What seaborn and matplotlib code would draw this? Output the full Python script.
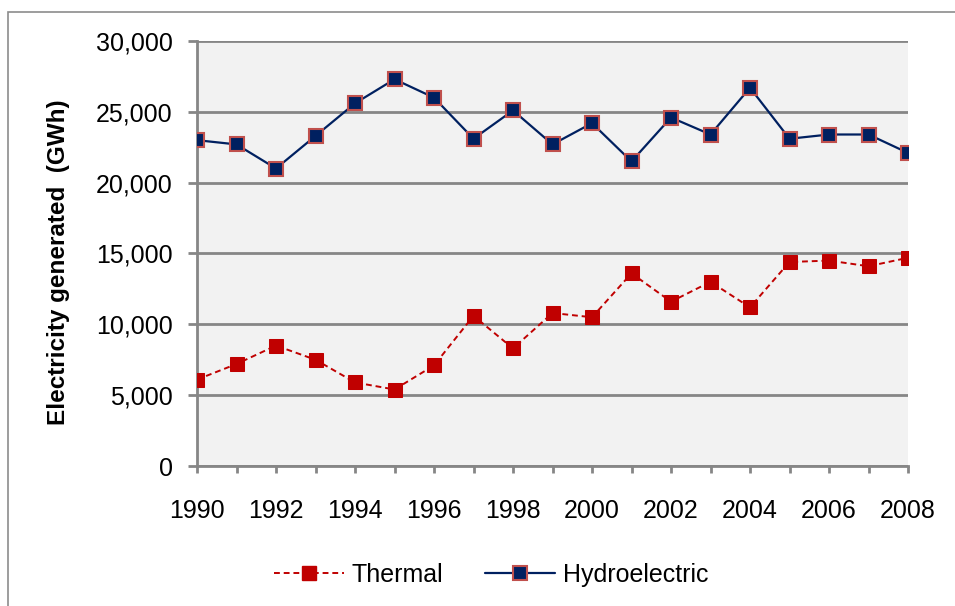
import matplotlib
matplotlib.use("Agg")
import matplotlib.pyplot as plt
import seaborn as sns
import pandas as pd
from matplotlib.ticker import FuncFormatter, MultipleLocator
from matplotlib.lines import Line2D
from matplotlib.patches import Rectangle

years = list(range(1990, 2009))
thermal = [6100, 7200, 8500, 7500, 5900, 5400, 7100, 10600, 8300, 10800,
           10500, 13600, 11600, 13000, 11200, 14400, 14500, 14100, 14700]
hydro = [23000, 22700, 21000, 23300, 25600, 27300, 26000, 23100, 25100, 22700,
         24200, 21500, 24600, 23400, 26700, 23100, 23400, 23400, 22100]

df = pd.DataFrame({"year": years, "Thermal": thermal, "Hydroelectric": hydro})

sns.set_style("white")
plt.rcParams['font.family'] = ['Liberation Sans', 'DejaVu Sans']
plt.rcParams['text.color'] = 'black'

fig = plt.figure(figsize=(9.55, 6.06), dpi=100)
ax = fig.add_axes([197 / 955, 1 - 466 / 606, 711 / 955, 425 / 606])
ax.set_facecolor("#F2F2F2")

grid_c = "#868686"
red = "#C00000"
navy = "#002060"
edge = "#C0504D"

sns.lineplot(data=df, x="year", y="Thermal", ax=ax, color=red,
             linestyle=(0, (3, 2)), linewidth=1.4, marker="s", markersize=10,
             markerfacecolor=red, markeredgecolor=red, zorder=3)
sns.lineplot(data=df, x="year", y="Hydroelectric", ax=ax, color=navy,
             linewidth=1.6, marker="s", markersize=10,
             markerfacecolor=navy, markeredgecolor=edge,
             markeredgewidth=1.5, zorder=3)

ax.set_xlim(1990, 2008)
ax.set_ylim(0, 30000)
ax.xaxis.set_major_locator(MultipleLocator(2))
ax.xaxis.set_minor_locator(MultipleLocator(1))
ax.yaxis.set_major_locator(MultipleLocator(5000))
ax.yaxis.set_major_formatter(FuncFormatter(lambda v, p: f"{v:,.0f}"))
ax.grid(axis="y", color=grid_c, linewidth=2, zorder=0)
ax.set_axisbelow(True)

for s in ["top", "right"]:
    ax.spines[s].set_visible(False)
for s in ["left", "bottom"]:
    ax.spines[s].set_color(grid_c)
    ax.spines[s].set_linewidth(2)

ax.tick_params(axis="y", which="major", direction="out", length=6.5, width=2,
               color=grid_c, labelcolor="black", labelsize=18, pad=11, left=True)
ax.tick_params(axis="x", which="both", direction="out", length=5, width=2,
               color=grid_c, labelcolor="black", labelsize=18, pad=19, bottom=True)

ax.set_xlabel("")
ax.set_ylabel("Electricity generated  (GWh)", fontsize=17.5, fontweight="bold",
              color="black")
ax.yaxis.set_label_coords(0, 0.5)
ax.yaxis.label.set_transform(fig.transFigure)
ax.yaxis.label.set_position((70 / 955, 1 - 262 / 606))

handles = [
    Line2D([], [], color=red, linestyle=(0, (3, 2)), linewidth=1.4,
           marker="s", markersize=10, markerfacecolor=red,
           markeredgecolor=red),
    Line2D([], [], color=navy, linewidth=1.6, marker="s", markersize=10,
           markerfacecolor=navy, markeredgecolor=edge,
           markeredgewidth=1.5),
]
fig.legend(handles, ["Thermal", "Hydroelectric"], loc="center",
           bbox_to_anchor=(491 / 955, 1 - 575 / 606), ncol=2, frameon=False,
           fontsize=18, handlelength=2.8, columnspacing=1.7, handletextpad=0.3)

fig.patches.append(Rectangle((8 / 955, -0.1), 1.2, 1 - 12 / 606 + 0.1,
                             transform=fig.transFigure, fill=False,
                             edgecolor="#8C8C8C", linewidth=1.2))

fig.savefig("out.png", dpi=100)
